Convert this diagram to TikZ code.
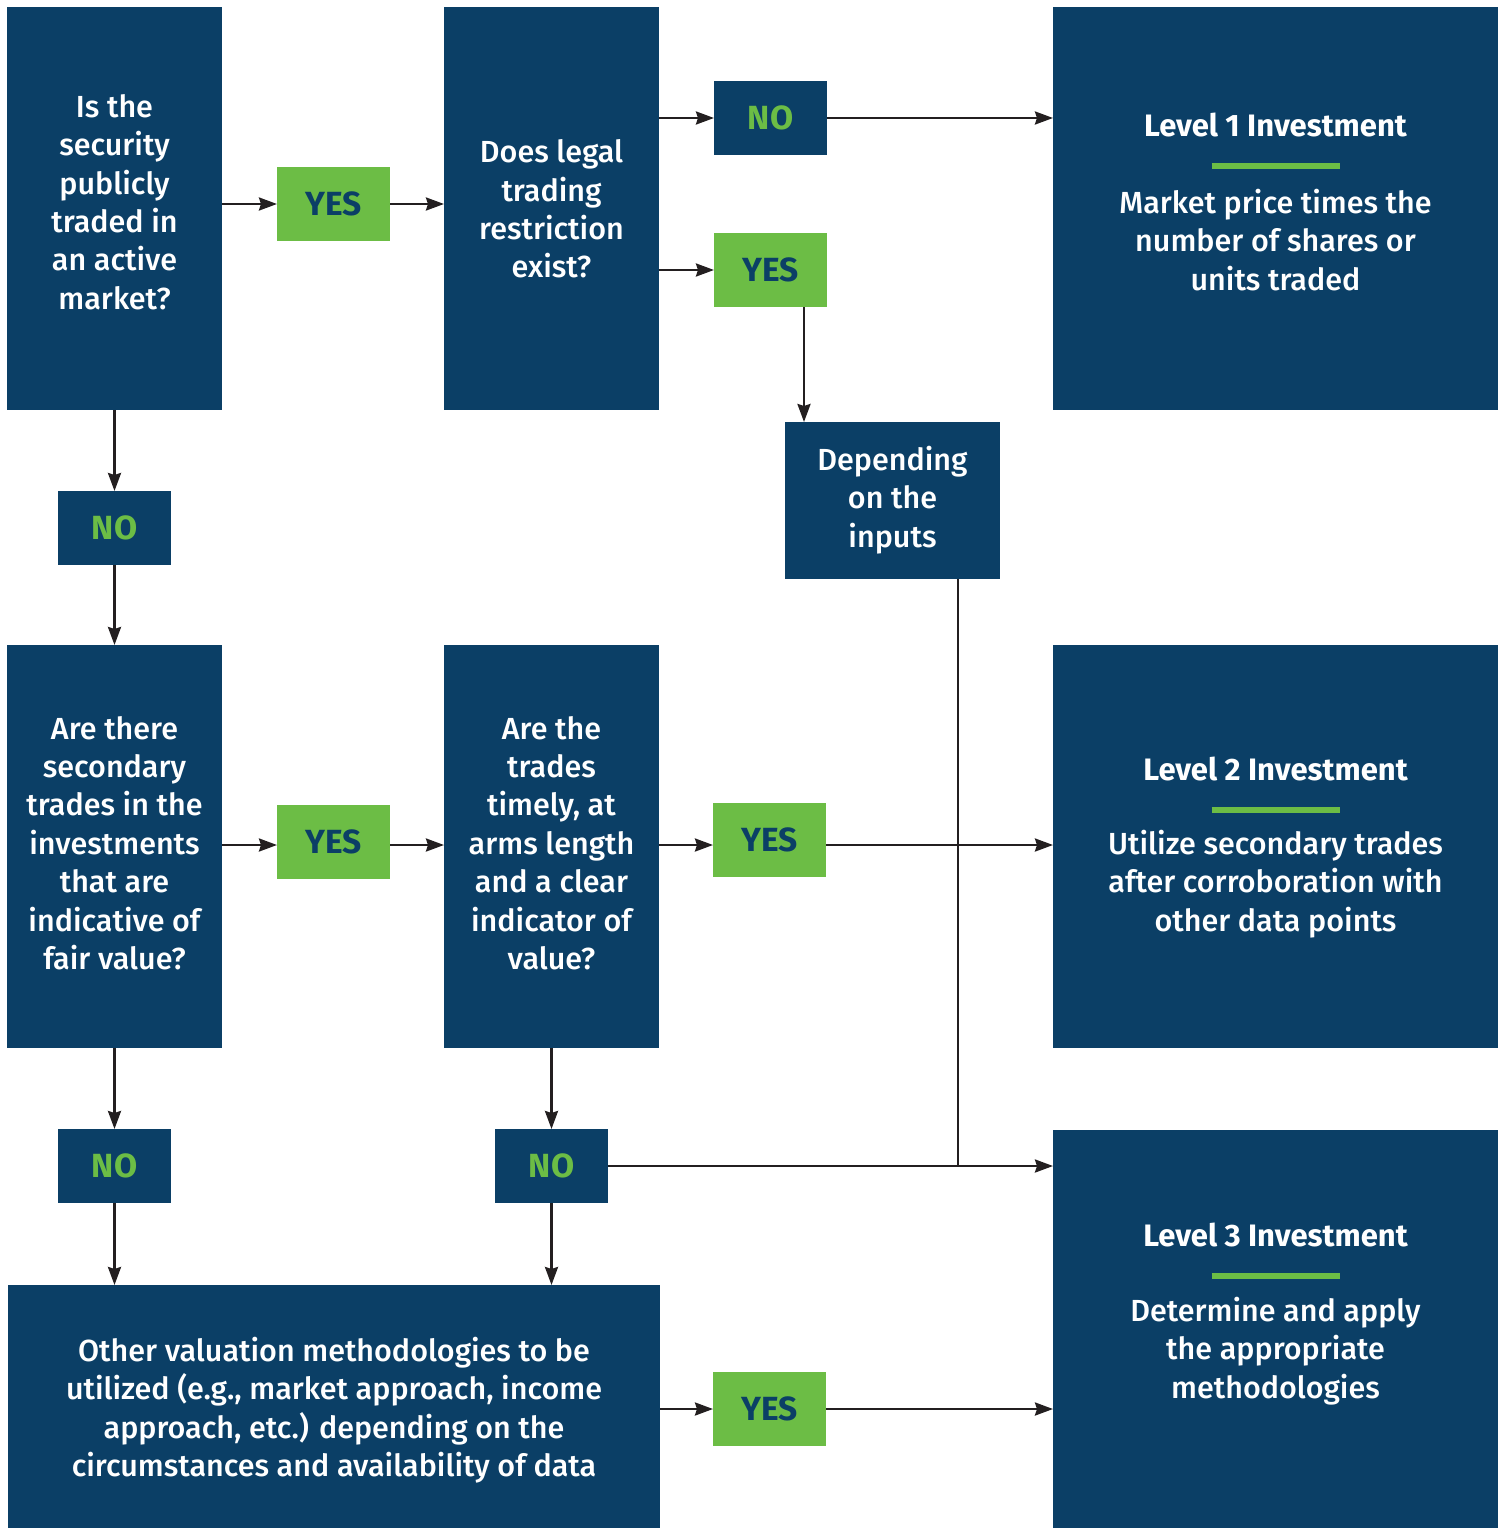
\documentclass[tikz,border=0pt]{standalone}
\usepackage{fontspec}
\setmainfont{Fira Sans}[UprightFont={* Medium}, BoldFont={* Bold}]
\usetikzlibrary{arrows.meta}
\definecolor{navy}{HTML}{0B3F66}
\definecolor{lgreen}{HTML}{6CBD45}
\definecolor{ink}{HTML}{231F20}
\begin{document}
\begin{tikzpicture}[x=1pt,y=-1pt,
  base/.style={inner sep=0pt, outer sep=0pt, anchor=center},
  qbox/.style={base, fill=navy, minimum width=215pt, minimum height=403pt},
  lbox/.style={base, fill=navy, minimum width=445pt},
  yesbox/.style={base, fill=lgreen, minimum width=113pt, minimum height=74pt, text=navy, font=\fontsize{33.5}{38}\selectfont\bfseries},
  nobox/.style={base, fill=navy, minimum width=113pt, minimum height=74pt, text=lgreen, font=\fontsize{33.5}{38}\selectfont\bfseries},
  qtext/.style={base, text=white, align=center, font=\fontsize{30.5}{38.4}\selectfont},
  ttext/.style={base, text=white, align=center, font=\fontsize{31}{36}\selectfont\bfseries},
  bar/.style={draw=lgreen, line width=6pt},
  conn/.style={draw=ink, line width=2.5pt},
  arr/.style={conn, -{Stealth[length=18pt,width=13pt,inset=2pt]}}
]
\useasboundingbox (0,0) rectangle (1504,1530);
% boxes
\node[qbox] (Q1) at (114.5,208.5) {};
\node[qtext] (Q1t) at (114.5,202) {Is the\\security\\publicly\\traded in\\an active\\market?};
\node[yesbox] (Y1) at (333.5,204) {YES};
\node[qbox] (Q2) at (551.5,208.5) {};
\node[qtext] (Q2t) at (551.5,209) {Does legal\\trading\\restriction\\exist?};
\node[nobox] (N1) at (770.5,118) {NO};
\node[yesbox] (Y2) at (770.5,270) {YES};
\node[lbox, minimum height=403pt] (L1) at (1275.5,208.5) {};
\node[ttext] (L1t) at (1275.5,125) {Level 1 Investment};
\draw[bar] (1211.5,166) -- (1339.5,166);
\node[qtext] (L1b) at (1275.5,240) {Market price times the\\number of shares or\\units traded};
\node[base, fill=navy, minimum width=215pt, minimum height=157pt] (D) at (892.5,500.5) {};
\node[qtext] (Dt) at (892.5,500) {Depending\\on the\\inputs};
\node[nobox] (N2) at (114.5,528) {NO};
\node[qbox] (Q3) at (114.5,846.5) {};
\node[qtext] (Q3t) at (114.5,843) {Are there\\secondary\\trades in the\\investments\\that are\\indicative of\\fair value?};
\node[yesbox] (Y3) at (333.5,842) {YES};
\node[qbox] (Q4) at (551.5,846.5) {};
\node[qtext] (Q4t) at (551.5,843) {Are the\\trades\\timely, at\\arms length\\and a clear\\indicator of\\value?};
\node[yesbox] (Y4) at (769.5,840) {YES};
\node[lbox, minimum height=403pt] (L2) at (1275.5,846.5) {};
\node[ttext] (L2t) at (1275.5,769) {Level 2 Investment};
\draw[bar] (1211.5,810) -- (1339.5,810);
\node[qtext] (L2b) at (1275.5,884) {Utilize secondary trades\\after corroboration with\\other data points};
\node[nobox] (N3) at (114.5,1166) {NO};
\node[nobox] (N4) at (551.5,1166) {NO};
\node[lbox, minimum height=398pt] (L3) at (1275.5,1329) {};
\node[ttext] (L3t) at (1275.5,1235) {Level 3 Investment};
\draw[bar] (1211.5,1276) -- (1339.5,1276);
\node[qtext] (L3b) at (1275.5,1351) {Determine and apply\\the appropriate\\methodologies};
\node[base, fill=navy, minimum width=652pt, minimum height=243pt] (O) at (334,1406.5) {};
\node[qtext] (Ot) at (334,1410) {Other valuation methodologies to be\\utilized (e.g., market approach, income\\approach, etc.) depending on the\\circumstances and availability of data};
\node[yesbox] (Y5) at (769.5,1409) {YES};
% connectors
\draw[arr] (Q1.east |- Y1.west) -- (Y1.west);
\draw[arr] (Y1.east) -- (Q2.west |- Y1.east);
\draw[arr] (Q2.east |- N1.west) -- (N1.west);
\draw[arr] (N1.east) -- (L1.west |- N1.east);
\draw[arr] (Q2.east |- Y2.west) -- (Y2.west);
\coordinate (y2b) at (804,307);
\draw[arr] (y2b) -- (y2b |- D.north);
\coordinate (dB) at (958,579);
\coordinate (j3) at (958,1166);
\draw[conn] (dB) -- (j3);
\draw[arr] (Q1.south) -- (N2.north);
\draw[arr] (N2.south) -- (Q3.north);
\coordinate (r3) at (0,845);
\draw[arr] (Q3.east |- r3) -- (Y3.west |- r3);
\draw[arr] (Y3.east |- r3) -- (Q4.west |- r3);
\draw[arr] (Q4.east |- r3) -- (Y4.west |- r3);
\draw[arr] (Y4.east |- r3) -- (L2.west |- r3);
\draw[arr] (Q3.south) -- (N3.north);
\draw[arr] (N3.south) -- (O.north -| N3.south);
\draw[arr] (Q4.south) -- (N4.north);
\draw[arr] (N4.south) -- (O.north -| N4.south);
\draw[arr] (N4.east) -- (L3.west |- N4.east);
\draw[arr] (O.east |- Y5.west) -- (Y5.west);
\draw[arr] (Y5.east) -- (L3.west |- Y5.east);
\end{tikzpicture}
\end{document}
